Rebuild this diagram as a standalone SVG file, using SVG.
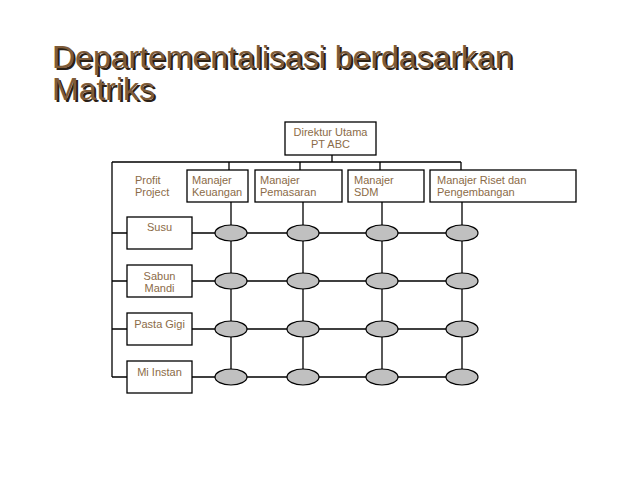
<svg xmlns="http://www.w3.org/2000/svg" width="638" height="479" viewBox="0 0 638 479">
<style>
.title{font-family:"Liberation Sans",Arial,sans-serif;font-size:32px}
.t{font-family:"Liberation Sans",Arial,sans-serif;font-size:11px;fill:#8b6b47}
.box{fill:#fff;stroke:#000;stroke-width:1.3}
.cell{fill:#c0c0c0;stroke:#000;stroke-width:1.2}
.ln{stroke:#000;stroke-width:1.3;fill:none}
</style>
<rect width="638" height="479" fill="#fff"/>
<g id="title">
<text class="title" x="54" y="70" fill="#2a2016">Departementalisasi berdasarkan</text>
<text class="title" x="54" y="102" fill="#2a2016">Matriks</text>
<text class="title" x="52" y="68" fill="#7e5b38">Departementalisasi berdasarkan</text>
<text class="title" x="52" y="100" fill="#7e5b38">Matriks</text>
</g>
<g id="connectors">
<path class="ln" d="M332 154V162M112 162H461M229 162V170M300 162V170M380 162V170M461 162V170"/>
<path class="ln" d="M112 162V377M112 233H127M112 281H127M112 329H127M112 377H127"/>
<path class="ln" d="M192 233H462M192 281H462M192 329H462M192 377H462"/>
<path class="ln" d="M231 202V377M303 202V377M382 202V377M462 202V377"/>
</g>
<g id="direktur">
<rect class="box" x="285" y="122" width="91" height="33"/>
<text class="t" x="330.5" y="135.5" text-anchor="middle">Direktur Utama</text>
<text class="t" x="330.5" y="148" text-anchor="middle">PT ABC</text>
</g>
<g id="profit">
<text class="t" x="135" y="183.5">Profit</text>
<text class="t" x="135" y="196">Project</text>
</g>
<g id="keuangan">
<rect class="box" x="187" y="170" width="61" height="32"/>
<text class="t" x="192" y="184">Manajer</text>
<text class="t" x="192" y="196">Keuangan</text>
</g>
<g id="pemasaran">
<rect class="box" x="255" y="170" width="87" height="32"/>
<text class="t" x="260" y="184">Manajer</text>
<text class="t" x="260" y="196">Pemasaran</text>
</g>
<g id="sdm">
<rect class="box" x="348" y="170" width="76" height="32"/>
<text class="t" x="354" y="184">Manajer</text>
<text class="t" x="354" y="196">SDM</text>
</g>
<g id="riset">
<rect class="box" x="430" y="170" width="146" height="32"/>
<text class="t" x="437" y="184">Manajer Riset dan</text>
<text class="t" x="437" y="196">Pengembangan</text>
</g>
<g id="susu">
<rect class="box" x="127" y="217" width="65" height="32"/>
<text class="t" x="159.5" y="231" text-anchor="middle">Susu</text>
</g>
<g id="sabun">
<rect class="box" x="127" y="265" width="65" height="32"/>
<text class="t" x="159.5" y="279.5" text-anchor="middle">Sabun</text>
<text class="t" x="159.5" y="292" text-anchor="middle">Mandi</text>
</g>
<g id="pasta">
<rect class="box" x="127" y="313" width="65" height="32"/>
<text class="t" x="159.5" y="327.5" text-anchor="middle">Pasta Gigi</text>
</g>
<g id="mi">
<rect class="box" x="127" y="361" width="65" height="32"/>
<text class="t" x="159.5" y="375.5" text-anchor="middle">Mi Instan</text>
</g>
<g id="cells">
<ellipse class="cell" cx="231" cy="233" rx="16" ry="8"/>
<ellipse class="cell" cx="303" cy="233" rx="16" ry="8"/>
<ellipse class="cell" cx="382" cy="233" rx="16" ry="8"/>
<ellipse class="cell" cx="462" cy="233" rx="16" ry="8"/>
<ellipse class="cell" cx="231" cy="281" rx="16" ry="8"/>
<ellipse class="cell" cx="303" cy="281" rx="16" ry="8"/>
<ellipse class="cell" cx="382" cy="281" rx="16" ry="8"/>
<ellipse class="cell" cx="462" cy="281" rx="16" ry="8"/>
<ellipse class="cell" cx="231" cy="329" rx="16" ry="8"/>
<ellipse class="cell" cx="303" cy="329" rx="16" ry="8"/>
<ellipse class="cell" cx="382" cy="329" rx="16" ry="8"/>
<ellipse class="cell" cx="462" cy="329" rx="16" ry="8"/>
<ellipse class="cell" cx="231" cy="377" rx="16" ry="8"/>
<ellipse class="cell" cx="303" cy="377" rx="16" ry="8"/>
<ellipse class="cell" cx="382" cy="377" rx="16" ry="8"/>
<ellipse class="cell" cx="462" cy="377" rx="16" ry="8"/>
</g>
</svg>
